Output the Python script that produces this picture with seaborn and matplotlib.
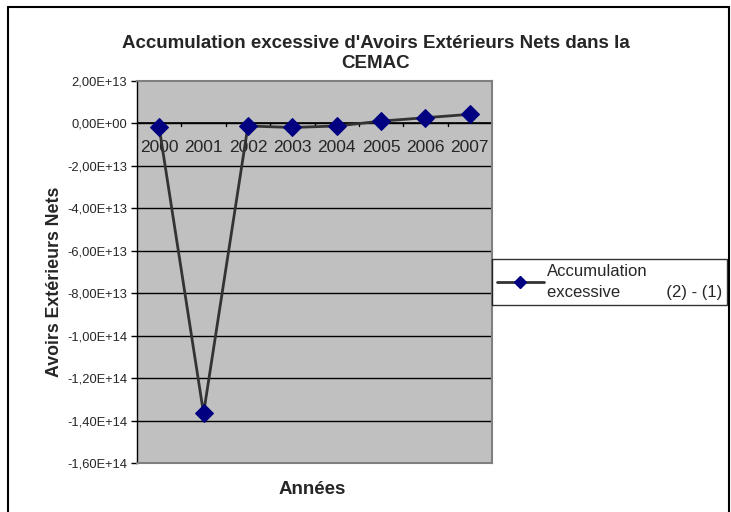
"""
Accumulation excessive d'Avoirs Exterieurs Nets - CEMAC
"""

import matplotlib
matplotlib.use('Agg')
import matplotlib.pyplot as plt
import seaborn as sns
import numpy as np
from matplotlib.lines import Line2D

years = ['2000', '2001', '2002', '2003', '2004', '2005', '2006', '2007']
accumulation = [-1.9e12, -1.366e14, -1.2e12, -1.9e12, -1.2e12, 1.1e12, 2.7e12, 4.3e12]
y_ticks = [2e13, 0, -2e13, -4e13, -6e13, -8e13, -1e14, -1.2e14, -1.4e14, -1.6e14]
y_tick_labels = ['2,00E+13', '0,00E+00', '-2,00E+13', '-4,00E+13', '-6,00E+13',
                 '-8,00E+13', '-1,00E+14', '-1,20E+14', '-1,40E+14', '-1,60E+14']

sns.set_style('white')
plt.rcParams['font.family'] = ['Liberation Sans', 'DejaVu Sans']

fig = plt.figure(figsize=(7.31, 5.12), dpi=100)
ax = fig.add_axes([137 / 731, 1 - 463 / 512, 355 / 731, 382 / 512])
ax.set_facecolor('#C0C0C0')

positions = np.arange(len(years))
sns.lineplot(x=positions, y=accumulation, ax=ax, color='#333333', linewidth=2,
             marker='D', markersize=9, markerfacecolor='#000080',
             markeredgecolor='#000080', zorder=5)

# grid lines like Excel
ax.set_ylim(-1.6e14, 2e13)
ax.set_xlim(-0.5, len(years) - 0.5)
ax.set_yticks(y_ticks)
ax.set_yticklabels(y_tick_labels, fontsize=9.3)
for yv in y_ticks[1:-1]:
    ax.axhline(yv, color='black', linewidth=1, zorder=1)

ax.set_xticks([])
# x axis crosses at zero
ax.axhline(0, color='black', linewidth=1.2, zorder=2)
for b in np.arange(0.5, len(years) - 0.5, 1):
    ax.plot([b, b], [0, -1.2e12], color='black', linewidth=1, zorder=2)
for i, lab in enumerate(years):
    ax.text(positions[i], -1.15e13, lab, ha='center', va='center', fontsize=12.5, zorder=3)

ax.tick_params(axis='y', length=4, width=1, color='black', left=True, pad=3)
for s in ['top', 'right', 'bottom']:
    ax.spines[s].set_color('#808080')
    ax.spines[s].set_linewidth(1.5)
ax.spines['left'].set_color('black')
ax.spines['left'].set_linewidth(1)

ax.set_xlabel('')
ax.set_ylabel('')
fig.text(376 / 731, 1 - 43 / 512, "Accumulation excessive d'Avoirs Extérieurs Nets dans la",
         ha='center', va='center', fontsize=13.5, fontweight='bold')
fig.text(376 / 731, 1 - 64 / 512, 'CEMAC', ha='center', va='center', fontsize=13.5, fontweight='bold')
fig.text(55 / 731, 1 - 282 / 512, 'Avoirs Extérieurs Nets', ha='center', va='center',
         rotation=90, fontsize=12.8, fontweight='bold')
fig.text(312 / 731, 1 - 490 / 512, 'Années', ha='center', va='center', fontsize=13.5, fontweight='bold')

handle = Line2D([], [], color='#333333', linewidth=2, marker='D', markersize=6,
                markerfacecolor='#000080', markeredgecolor='#000080')
leg = fig.legend([handle], ['Accumulation\nexcessive          (2) - (1)'],
                 loc='center left', bbox_to_anchor=(492 / 731, 1 - 282 / 512),
                 fontsize=12, frameon=True, fancybox=False, handlelength=2.8,
                 handletextpad=0.2, borderpad=0.3, borderaxespad=0)
for t in leg.get_texts():
    t.set_linespacing(1.5)
leg.get_frame().set_edgecolor('black')
leg.get_frame().set_linewidth(1)

# outer chart frame
fig.add_artist(Line2D([8 / 731, 8 / 731], [0, 1 - 7 / 512], color='black', linewidth=1.5))
fig.add_artist(Line2D([8 / 731, 729 / 731], [1 - 7 / 512, 1 - 7 / 512], color='black', linewidth=1.5))
fig.add_artist(Line2D([729 / 731, 729 / 731], [0, 1 - 7 / 512], color='black', linewidth=1.5))

plt.savefig('out.png', dpi=100)
